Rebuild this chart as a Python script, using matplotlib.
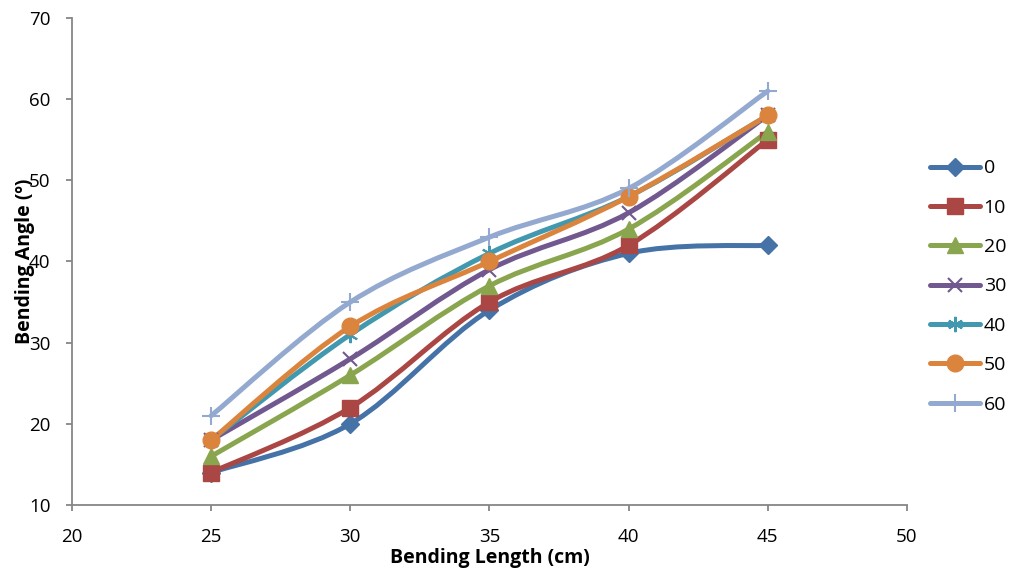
import matplotlib
matplotlib.use("Agg")
import matplotlib.pyplot as plt
from matplotlib.path import Path
from matplotlib.patches import PathPatch
from matplotlib.lines import Line2D
import numpy as np

plt.rcParams['font.family'] = ['Open Sans', 'DejaVu Sans']

lengths = [25, 30, 35, 40, 45]
labels = ['0', '10', '20', '30', '40', '50', '60']
s0 = [14, 20, 34, 41, 42]
s10 = [14, 22, 35, 42, 55]
s20 = [16, 26, 37, 44, 56]
s30 = [18, 28, 39, 46, 58]
s40 = [18, 31, 41, 48, 58]
s50 = [18, 32, 40, 48, 58]
s60 = [21, 35, 43, 49, 61]
series = [s0, s10, s20, s30, s40, s50, s60]

colors = ['#4572A7', '#AA4643', '#89A54E', '#71588F', '#4198AF', '#DB843D', '#93A9CF']
markers = ['D', 's', '^', 'x', (6, 2, 0), 'o', '+']
msizes = [9, 11, 11, 10, 11, 12, 13]
mews = [1, 1, 1, 1.5, 1.5, 1, 1.5]

fig = plt.figure(figsize=(10.1, 5.71), dpi=100)
ax = fig.add_axes([0.0713, 0.1156, 0.8267, 0.8529])


def smooth_path(xs, ys, t=1/6):
    pts = np.column_stack([xs, ys]).astype(float)
    n = len(pts)
    verts = [pts[0]]
    codes = [Path.MOVETO]
    for i in range(n - 1):
        p_prev = pts[i - 1] if i > 0 else pts[i]
        p_next2 = pts[i + 2] if i + 2 < n else pts[i + 1]
        c1 = pts[i] + (pts[i + 1] - p_prev) * t
        c2 = pts[i + 1] - (p_next2 - pts[i]) * t
        verts += [c1, c2, pts[i + 1]]
        codes += [Path.CURVE4] * 3
    return Path(verts, codes)


handles = []
for ys, c, m, ms, mew, lab in zip(series, colors, markers, msizes, mews, labels):
    patch = PathPatch(smooth_path(lengths, ys), fill=False, edgecolor=c,
                      linewidth=3.6, capstyle='round', joinstyle='round')
    ax.add_patch(patch)
    ax.plot(lengths, ys, linestyle='none', marker=m, markersize=ms,
            color=c, markeredgecolor=c, markeredgewidth=mew)
    handles.append(Line2D([], [], color=c, linewidth=3.6, marker=m,
                          markersize=ms, markeredgewidth=mew,
                          solid_capstyle='round', label=lab))

ax.set_xlim(20, 50)
ax.set_ylim(10, 70)
ax.set_xticks(range(20, 51, 5))
ax.set_yticks(range(10, 71, 10))
for sp in ['top', 'right']:
    ax.spines[sp].set_visible(False)
for sp in ['left', 'bottom']:
    ax.spines[sp].set_color('#868686')
    ax.spines[sp].set_linewidth(1.3)
ax.tick_params(axis='both', direction='out', length=4.5, width=1.3,
               color='#868686', labelsize=13.5, labelcolor='black')
ax.tick_params(axis='x', pad=12)
ax.tick_params(axis='y', pad=11)

ax.set_xlabel('Bending Length (cm)', fontsize=14, fontweight='bold')
ax.xaxis.set_label_coords(0.5, -0.088)
ax.set_ylabel('Bending Angle (º)', fontsize=14, fontweight='bold')
ax.yaxis.set_label_coords(-0.044, 0.5)

fig.legend(handles=handles, loc='upper left', bbox_to_anchor=(0.921, 0.721),
           frameon=False, fontsize=14, handlelength=2.55, handletextpad=0.2,
           labelspacing=1.1, borderpad=0, borderaxespad=0)

fig.savefig('out.png', dpi=100)
